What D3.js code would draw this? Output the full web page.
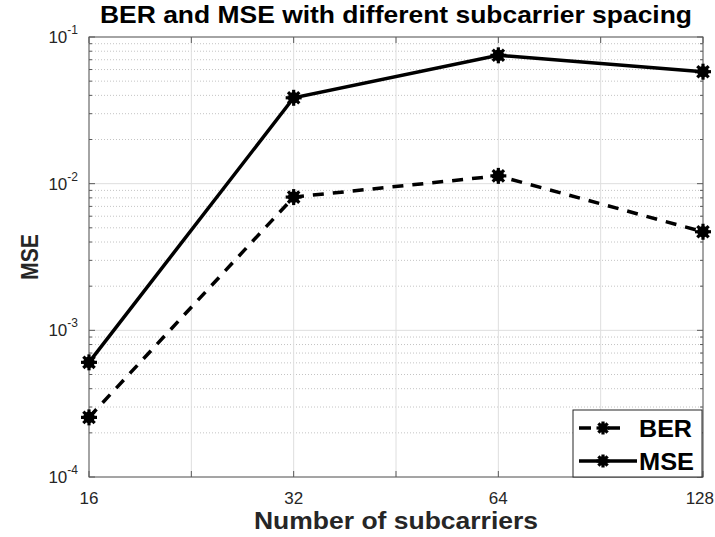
<!DOCTYPE html>
<html>
<head>
<meta charset="utf-8">
<script src="https://cdn.jsdelivr.net/npm/d3@7"></script>
<style>
  html, body { margin: 0; padding: 0; background: #fff; }
  svg { display: block; font-family: "Liberation Sans", Arial, Helvetica, sans-serif; }
</style>
</head>
<body>
<svg id="chart" width="715" height="537"></svg>
<script>
// Subcarrier counts and the measured error rates for each
const subcarriers = [16, 32, 64, 128];
const berValues = [2.55e-4, 8.1e-3, 1.13e-2, 4.7e-3];
const mseValues = [6.05e-4, 3.85e-2, 7.5e-2, 5.8e-2];
const xTickLabels = ["16", "32", "64", "128"];
const yDecades = [1e-4, 1e-3, 1e-2, 1e-1];
const yTickExponents = ["-4", "-3", "-2", "-1"];

const svg = d3.select("#chart");
const margin = { left: 89, right: 12, top: 37, bottom: 60 };
const W = 715, H = 537;
const x0 = margin.left, x1 = W - margin.right;   // 89 .. 703
const y0 = margin.top, y1 = H - margin.bottom;   // 37 .. 477

const x = d3.scaleLog().base(2).domain([16, 128]).range([x0, x1]);
const y = d3.scaleLog().domain([1e-4, 1e-1]).range([y1, y0]);

// x grid/ticks: powers of two plus the half-octave steps between them
const xGrid = [];
subcarriers.forEach((v, i) => {
  xGrid.push(v);
  if (i < subcarriers.length - 1) xGrid.push(Math.sqrt(v * subcarriers[i + 1]));
});

// y minor values 2..9 within each decade
const yMinor = [];
yDecades.slice(0, -1).forEach(d => { for (let k = 2; k <= 9; k++) yMinor.push(d * k); });

const grid = svg.append("g");
grid.selectAll(".ymin").data(yMinor).join("line")
  .attr("x1", x0).attr("x2", x1)
  .attr("y1", d => y(d)).attr("y2", d => y(d))
  .attr("stroke", "#c4c4c4").attr("stroke-width", 1)
  .attr("stroke-dasharray", "1,2");
grid.selectAll(".ymaj").data(yDecades).join("line")
  .attr("x1", x0).attr("x2", x1)
  .attr("y1", d => y(d)).attr("y2", d => y(d))
  .attr("stroke", "#dedede").attr("stroke-width", 1);
grid.selectAll(".xmaj").data(xGrid).join("line")
  .attr("x1", d => x(d)).attr("x2", d => x(d))
  .attr("y1", y0).attr("y2", y1)
  .attr("stroke", "#dedede").attr("stroke-width", 1);

// Axes with inward ticks on all four sides
const axisColor = "#5a5a5a";
const axes = svg.append("g");
function tickLine(xa, ya, xb, yb) {
  axes.append("line").attr("x1", xa).attr("y1", ya).attr("x2", xb).attr("y2", yb)
    .attr("stroke", axisColor).attr("stroke-width", 1);
}
xGrid.forEach(v => {
  const px = x(v);
  tickLine(px, y1, px, y1 - 6);
  tickLine(px, y0, px, y0 + 6);
});
yDecades.forEach(v => {
  tickLine(x0, y(v), x0 + 6, y(v));
  tickLine(x1, y(v), x1 - 6, y(v));
});
yMinor.forEach(v => {
  tickLine(x0, y(v), x0 + 3, y(v));
  tickLine(x1, y(v), x1 - 3, y(v));
});
axes.append("rect").attr("x", x0).attr("y", y0)
  .attr("width", x1 - x0).attr("height", y1 - y0)
  .attr("fill", "none").attr("stroke", axisColor).attr("stroke-width", 1);

// Tick labels (the last one is kept inside the canvas edge)
const labels = svg.append("g").attr("fill", "#262626").attr("font-size", 17);
labels.selectAll(".xl").data(subcarriers).join("text")
  .attr("x", (d, i) => i === subcarriers.length - 1 ? W - 1 : x(d))
  .attr("y", y1 + 27)
  .attr("text-anchor", (d, i) => i === subcarriers.length - 1 ? "end" : "middle")
  .text((d, i) => xTickLabels[i]);
const yl = labels.selectAll(".yl").data(yDecades).join("text")
  .attr("x", x0 - 11).attr("y", d => y(d) + 6)
  .attr("text-anchor", "end");
yl.append("tspan").text("10");
yl.append("tspan").attr("dy", -9).attr("font-size", 12).text((d, i) => yTickExponents[i]);

// Series lines
const line = d3.line().x(d => x(d[0])).y(d => y(d[1]));
const berPts = subcarriers.map((s, i) => [s, berValues[i]]);
const msePts = subcarriers.map((s, i) => [s, mseValues[i]]);

const plot = svg.append("g");
plot.append("path").datum(berPts).attr("d", line)
  .attr("fill", "none").attr("stroke", "#000").attr("stroke-width", 3.5)
  .attr("stroke-dasharray", "11,9");
plot.append("path").datum(msePts).attr("d", line)
  .attr("fill", "none").attr("stroke", "#000").attr("stroke-width", 3.5);

// Asterisk markers, drawn heavy so they read as solid blobs
function asterisk(g, cx, cy, r) {
  const m = g.append("g").attr("transform", `translate(${cx},${cy})`)
    .attr("stroke", "#000").attr("stroke-width", 3.2).attr("stroke-linecap", "butt");
  [0, 45, 90, 135].forEach(a => {
    const rad = a * Math.PI / 180;
    m.append("line")
      .attr("x1", -r * Math.cos(rad)).attr("y1", -r * Math.sin(rad))
      .attr("x2", r * Math.cos(rad)).attr("y2", r * Math.sin(rad));
  });
  m.append("circle").attr("r", r * 0.72).attr("fill", "#000").attr("stroke", "none");
}
berPts.forEach(p => asterisk(plot, x(p[0]), y(p[1]), 8));
msePts.forEach(p => asterisk(plot, x(p[0]), y(p[1]), 8));

// Legend
const lg = svg.append("g");
const lx0 = 573, ly0 = 410, lw = 129, lh = 67;
lg.append("rect").attr("x", lx0).attr("y", ly0).attr("width", lw).attr("height", lh)
  .attr("fill", "#fff").attr("stroke", "#262626").attr("stroke-width", 1);
const legendItems = [
  { name: "BER", dash: "11,9", cy: ly0 + 18, w: 53 },
  { name: "MSE", dash: null, cy: ly0 + 51, w: 55 }
];
legendItems.forEach(it => {
  const l = lg.append("line").attr("x1", lx0 + 6).attr("x2", lx0 + 64)
    .attr("y1", it.cy).attr("y2", it.cy)
    .attr("stroke", "#000").attr("stroke-width", 3.5);
  if (it.dash) l.attr("stroke-dasharray", "12,17");
  asterisk(lg, lx0 + 30, it.cy, 6.5);
  lg.append("text").attr("x", lx0 + 66).attr("y", it.cy + 8.5)
    .attr("font-size", 23).attr("font-weight", "bold").attr("fill", "#000")
    .attr("textLength", it.w).attr("lengthAdjust", "spacingAndGlyphs")
    .text(it.name);
});

// Title and axis titles
svg.append("text").attr("x", (x0 + x1) / 2).attr("y", 23)
  .attr("text-anchor", "middle").attr("font-size", 24).attr("font-weight", "bold")
  .attr("textLength", 592).attr("lengthAdjust", "spacingAndGlyphs")
  .attr("fill", "#000").text("BER and MSE with different subcarrier spacing");
svg.append("text").attr("x", (x0 + x1) / 2).attr("y", 529)
  .attr("text-anchor", "middle").attr("font-size", 24).attr("font-weight", "bold")
  .attr("textLength", 284).attr("lengthAdjust", "spacingAndGlyphs")
  .attr("fill", "#262626").text("Number of subcarriers");
svg.append("text")
  .attr("transform", `translate(38,${(y0 + y1) / 2}) rotate(-90)`)
  .attr("text-anchor", "middle").attr("font-size", 24).attr("font-weight", "bold")
  .attr("textLength", 46).attr("lengthAdjust", "spacingAndGlyphs")
  .attr("fill", "#262626").text("MSE");
</script>
</body>
</html>
